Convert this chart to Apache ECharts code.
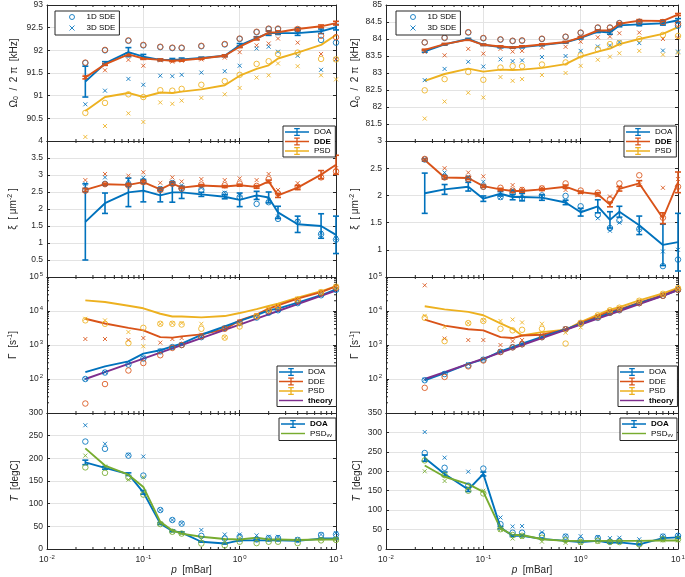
<!DOCTYPE html>
<html>
<head>
<meta charset="utf-8">
<script src="https://cdn.jsdelivr.net/npm/echarts@6/dist/echarts.min.js"></script>
<style>
html, body { margin: 0; padding: 0; background: #fff; }
#main { width: 685px; height: 577px; }
</style>
</head>
<body>
<div id="main"></div>
<script>
// pressure [mBar], shared by every panel
var pressure = [0.025, 0.04, 0.07, 0.1, 0.15, 0.2, 0.25, 0.4, 0.7, 1, 1.5, 2, 2.5, 4, 7, 10]

// minor tick positions of the log axes
var minorX = [0.02, 0.03, 0.04, 0.05, 0.06, 0.07, 0.08, 0.09, 0.2, 0.3, 0.4, 0.5, 0.6, 0.7, 0.8, 0.9, 2, 3, 4, 5, 6, 7, 8, 9]
var minorY = [20, 30, 40, 50, 60, 70, 80, 90, 200, 300, 400, 500, 600, 700, 800, 900,
    2000, 3000, 4000, 5000, 6000, 7000, 8000, 9000, 20000, 30000, 40000, 50000, 60000, 70000, 80000, 90000]

// ---- Omega0 / 2pi, left
var omDoaA = [91.31, 91.71, 91.96, 91.86, 91.79, 91.79, 91.80, 91.83, 91.88, 92.11, 92.27, 92.38, 92.38, 92.38, 92.42, 92.51]
var omDoaErrA = [0.34, 0.04, 0.1, 0.05, 0.02, 0.03, 0.03, 0.02, 0.02, 0.04, 0.03, 0.05, 0.03, 0.05, 0.05, 0.06]
var omDdeA = [91.40, 91.69, 91.91, 91.82, 91.79, 91.77, 91.78, 91.82, 91.88, 92.08, 92.26, 92.39, 92.40, 92.47, 92.53, 92.60]
var omDdeErrA = [0.03, 0.02, 0.03, 0.02, 0.02, 0.02, 0.02, 0.02, 0.02, 0.02, 0.03, 0.03, 0.03, 0.03, 0.03, 0.04]
var omPsdA = [90.66, 90.97, 91.06, 90.97, 91.07, 91.06, 91.09, 91.14, 91.23, 91.44, 91.59, 91.67, 91.82, 91.95, 92.12, 92.34]
var omDoa1A = [91.72, 92.00, 92.21, 92.11, 92.07, 92.05, 92.05, 92.09, 92.13, 92.25, 92.40, 92.47, 92.47, 92.45, 92.23, 92.17]
var omDoa3A = [90.81, 91.11, 91.37, 91.24, 91.44, 91.43, 91.46, 91.51, 91.54, 91.66, 92.04, 92.08, 91.97, 91.88, 91.57, 91.80]
var omDde1A = [91.73, 92.01, 92.22, 92.12, 92.08, 92.06, 92.06, 92.10, 92.14, 92.26, 92.41, 92.48, 92.48, 92.47, 92.32, 92.29]
var omDde3A = [91.42, 91.56, 91.79, 91.66, 91.78, 91.75, 91.77, 91.80, 91.84, 91.96, 92.11, 92.15, 92.26, 92.17, 91.92, 91.81]
var omPsd1A = [90.62, 90.84, 91.03, 90.97, 91.12, 91.11, 91.15, 91.24, 91.32, 91.46, 91.70, 91.76, 91.92, 91.95, 91.81, 91.80]
var omPsd3A = [90.09, 90.33, 90.61, 90.42, 90.85, 90.82, 90.89, 90.95, 91.03, 91.17, 91.40, 91.45, 91.71, 91.65, 91.45, 91.36]

// ---- Omega0 / 2pi, right
var omDoaB = [83.64, 83.84, 84.00, 83.83, 83.76, 83.75, 83.76, 83.82, 83.90, 84.03, 84.22, 84.19, 84.40, 84.43, 84.46, 84.55]
var omDoaErrB = [0.03, 0.02, 0.02, 0.02, 0.02, 0.02, 0.02, 0.02, 0.02, 0.03, 0.03, 0.05, 0.04, 0.04, 0.05, 0.05]
var omDdeB = [83.68, 83.85, 83.98, 83.83, 83.78, 83.75, 83.78, 83.84, 83.91, 84.05, 84.25, 84.25, 84.45, 84.54, 84.53, 84.72]
var omDdeErrB = [0.02, 0.02, 0.02, 0.02, 0.02, 0.02, 0.02, 0.02, 0.02, 0.02, 0.02, 0.03, 0.03, 0.03, 0.03, 0.03]
var omPsdB = [82.77, 82.97, 83.13, 83.04, 83.10, 83.09, 83.10, 83.15, 83.26, 83.48, 83.63, 83.72, 83.85, 84.00, 84.15, 84.35]
var omDoa1B = [83.90, 84.03, 84.19, 84.02, 83.98, 83.94, 83.95, 84.00, 84.06, 84.18, 84.33, 84.33, 84.47, 84.50, 84.48, 84.39]
var omDoa3B = [82.79, 83.12, 83.33, 83.19, 83.40, 83.35, 83.37, 83.47, 83.50, 83.65, 83.78, 83.81, 83.91, 83.88, 83.66, 83.63]
var omDde1B = [83.90, 84.04, 84.20, 84.03, 83.99, 83.95, 83.96, 84.01, 84.07, 84.19, 84.34, 84.34, 84.46, 84.51, 84.50, 84.45]
var omDde3B = [83.62, 83.52, 83.71, 83.57, 83.71, 83.63, 83.65, 83.75, 83.77, 83.92, 84.05, 84.07, 84.17, 84.19, 84.00, 84.04]
var omPsd1B = [82.49, 82.82, 83.03, 82.80, 83.16, 83.20, 83.20, 83.25, 83.31, 83.52, 83.70, 83.85, 83.88, 84.00, 84.12, 84.09]
var omPsd3B = [81.66, 82.16, 82.42, 82.28, 82.88, 82.77, 82.82, 82.94, 83.00, 83.21, 83.39, 83.48, 83.58, 83.65, 83.54, 83.60]

// ---- xi, left
var xiDoaA = [1.62, 2.17, 2.49, 2.54, 2.40, 2.49, 2.49, 2.43, 2.36, 2.27, 2.40, 2.34, 1.90, 1.55, 1.50, 1.24]
var xiDoaErrA = [1.12, 0.30, 0.42, 0.33, 0.19, 0.29, 0.18, 0.06, 0.06, 0.20, 0.12, 0.16, 0.18, 0.24, 0.36, 0.55]
var xiDdeA = [2.56, 2.73, 2.71, 2.79, 2.58, 2.75, 2.63, 2.69, 2.66, 2.70, 2.65, 2.81, 2.40, 2.63, 3.01, 3.30]
var xiDdeErrA = [0.05, 0.03, 0.04, 0.04, 0.04, 0.05, 0.03, 0.03, 0.03, 0.03, 0.04, 0.04, 0.06, 0.06, 0.12, 0.28]
var xiDoa1A = [2.55, 2.74, 2.72, 2.81, 2.58, 2.76, 2.60, 2.56, 2.44, 2.35, 2.15, 2.20, 1.71, 1.62, 1.26, 1.10]
var xiDoa3A = [2.74, 2.93, 2.86, 2.92, 2.62, 2.80, 2.70, 2.62, 2.48, 2.41, 2.33, 2.27, 1.78, 1.65, 1.30, 1.15]
var xiDde1A = [2.54, 2.73, 2.69, 2.79, 2.56, 2.74, 2.60, 2.72, 2.70, 2.75, 2.68, 2.88, 2.46, 2.65, 2.93, 3.11]
var xiDde3A = [2.85, 3.03, 2.98, 3.08, 2.77, 2.93, 2.81, 2.88, 2.85, 2.90, 2.85, 3.03, 2.56, 2.76, 2.95, 3.20]

// ---- xi, right
var xiDoaB = [2.04, 2.11, 2.16, 1.94, 2.03, 1.97, 1.97, 1.96, 1.87, 1.69, 1.80, 1.55, 1.70, 1.45, 1.09, 1.14]
var xiDoaErrB = [0.37, 0.09, 0.08, 0.05, 0.04, 0.05, 0.07, 0.05, 0.04, 0.07, 0.12, 0.15, 0.10, 0.17, 0.38, 0.53]
var xiDdeB = [2.65, 2.33, 2.32, 2.17, 2.11, 2.08, 2.08, 2.11, 2.16, 2.06, 2.02, 1.83, 2.12, 2.22, 1.58, 2.24]
var xiDdeErrB = [0.02, 0.03, 0.03, 0.02, 0.02, 0.02, 0.02, 0.02, 0.03, 0.02, 0.03, 0.04, 0.04, 0.05, 0.1, 0.19]
var xiDoa1B = [2.66, 2.34, 2.30, 2.16, 1.97, 2.04, 1.95, 2.00, 1.99, 1.80, 1.64, 1.40, 1.54, 1.38, 0.70, 0.82]
var xiDoa3B = [2.66, 2.42, 2.34, 2.25, 1.96, 2.10, 2.05, 1.98, 1.90, 1.75, 1.58, 1.35, 1.50, 1.40, 0.97, 1.00]
var xiDde1B = [2.67, 2.33, 2.30, 2.16, 2.14, 2.09, 2.10, 2.13, 2.22, 2.09, 2.05, 1.93, 2.22, 2.37, 1.59, 2.16]
var xiDde3B = [2.67, 2.50, 2.42, 2.35, 2.10, 2.19, 2.12, 2.14, 2.10, 2.05, 2.00, 1.98, 2.15, 2.25, 2.14, 2.30]

// ---- Gamma [1/s], left
var gaDoaA = [160, 236, 330, 560, 700, 910, 1100, 2000, 3500, 5100, 7600, 10500, 11700, 17600, 29000, 43000]
var gaDdeA = [5900, 4300, 3200, 2700, 1700, 1650, 1800, 2050, 2900, 5300, 7800, 11700, 14700, 23000, 36000, 53000]
var gaPsdA = [20600, 18400, 14300, 12000, 8300, 6900, 6900, 6500, 7100, 8700, 11400, 14000, 16400, 24600, 38000, 54000]
var gaTheoryA = [100, 160, 280, 400, 600, 800, 1000, 1600, 2800, 4000, 6000, 8000, 10000, 16000, 28000, 40000]
var gaDoa1A = [100, 155, 265, 400, 650, 870, 1000, 1700, 3100, 4400, 6400, 8900, 10500, 17000, 29000, 42000]
var gaDoa3A = [100, 160, 280, 430, 680, 880, 1050, 1750, 3200, 4500, 6600, 9200, 10800, 17500, 30000, 43000]
var gaDde1A = [19, 71, 178, 295, 500, 820, 1000, 1800, 3000, 4600, 7000, 10000, 12500, 20000, 33000, 48000]
var gaDde3A = [1500, 1500, 1400, 1600, 1170, 1500, 1600, 2000, 3000, 5000, 7500, 11000, 14000, 22000, 35000, 50000]
var gaPsd1A = [5300, 4200, 1140, 3200, 4200, 4200, 4000, 3000, 1650, 3500, 7000, 11000, 14000, 22000, 36000, 52000]
var gaPsd3A = [5900, 5300, 2400, 920, 4200, 4400, 4400, 4200, 1700, 4000, 7500, 11500, 15000, 23000, 37000, 53000]

// ---- Gamma [1/s], right
var gaDoaB = [91, 150, 280, 380, 650, 870, 1100, 1740, 2900, 4200, 6300, 8800, 10500, 17000, 28000, 42000]
var gaDdeB = [5600, 3700, 2900, 2700, 1700, 1600, 1900, 2000, 2800, 4400, 6900, 9800, 11200, 17700, 29000, 44000]
var gaPsdB = [13800, 11200, 9400, 7500, 4300, 3000, 1900, 2400, 2800, 4700, 7800, 11000, 13000, 20500, 33000, 48000]
var gaTheoryB = [100, 160, 280, 400, 600, 800, 1000, 1600, 2800, 4000, 6000, 8000, 10000, 16000, 28000, 41000]
var gaDoa1B = [92, 140, 250, 370, 630, 860, 1050, 1700, 2900, 4200, 6300, 8800, 10500, 17000, 28000, 42000]
var gaDoa3B = [95, 150, 275, 390, 650, 880, 1080, 1750, 3000, 4300, 6500, 9000, 10800, 17500, 29000, 43000]
var gaDde1B = [55, 115, 235, 350, 620, 850, 1050, 1700, 2900, 4300, 6500, 9000, 10800, 17000, 28000, 42000]
var gaDde3B = [57000, 1550, 1400, 1400, 1000, 1300, 1400, 2000, 3000, 4500, 7000, 9800, 11500, 18000, 29000, 44000]
var gaPsd1B = [6300, 1300, 4400, 5100, 3000, 2700, 2800, 3000, 1100, 4500, 7500, 10500, 12500, 20000, 32000, 47000]
var gaPsd3B = [7200, 3400, 4400, 5300, 5100, 5600, 4600, 4200, 2300, 3300, 7500, 10500, 12500, 20000, 32000, 47000]

// ---- T [degC], left
var tDoaA = [191, 179, 165, 125, 56, 40, 36, 16, 12, 19, 19, 19, 19, 18, 23, 23]
var tDoaErrA = [5, 3, 3, 4, 2, 2, 2, 1, 1, 1, 1, 1, 1, 1, 1, 1]
var tPsdA = [222, 184, 164, 137, 60, 41, 34, 27, 22, 21, 25, 21, 21, 20, 21, 21]
var tDoa1A = [237, 221, 206, 162, 86, 64, 56, 29, 23, 27, 21, 24, 24, 20, 31, 32]
var tDoa3A = [273, 232, 208, 204, 86, 64, 57, 42, 32, 32, 30, 27, 27, 21, 32, 35]
var tPsd1A = [180, 168, 158, 120, 55, 38, 34, 12, 8, 16, 13, 16, 16, 13, 19, 20]
var tPsd3A = [206, 182, 153, 158, 56, 38, 34, 21, 18, 24, 21, 21, 21, 21, 21, 21]

// ---- T [degC], right
var tDoaB = [234, 193, 153, 193, 55, 34, 34, 26, 21, 18, 21, 16, 17, 12, 28, 30]
var tDoaErrB = [8, 5, 5, 5, 3, 2, 2, 1, 1, 1, 1, 1, 1, 1, 2, 2]
var tPsdB = [215, 186, 167, 147, 53, 36, 36, 25, 21, 21, 21, 21, 21, 21, 22, 22]
var tDoa1B = [247, 209, 163, 207, 64, 42, 42, 36, 32, 23, 28, 19, 21, 14, 32, 34]
var tDoa3B = [301, 235, 199, 195, 81, 58, 59, 43, 34, 33, 31, 28, 29, 25, 34, 36]
var tPsd1B = [228, 190, 150, 143, 51, 36, 34, 29, 23, 18, 21, 18, 18, 12, 25, 25]
var tPsd3B = [200, 175, 157, 150, 50, 27, 31, 19, 16, 16, 19, 19, 19, 19, 22, 22]

var cBlue = '#0072BD', cRed = '#D95319', cYellow = '#EDB120', cPurple = '#7E2F8E', cGreen = '#77AC30'
var axisColor = '#262626', gridColor = '#e3e3e3'
var font = '"Liberation Sans", Arial, sans-serif'

var colLeft = [47, 386], colWidth = [289, 292]
var rowTop = [5, 141, 277, 413], rowHeight = 136

var crossPath = 'path://M0,0L10,10M10,0L0,10'
var errIcon = 'path://M0,4.1H30V5.9H0Z M14.2,0H15.8V10H14.2Z M11.5,0H18.5V1.5H11.5Z M11.5,8.5H18.5V10H11.5Z'
var lineIcon = 'path://M0,4.1H30V5.9H0Z'

var richText = {
    n: { fontSize: 10, color: axisColor, fontFamily: font },
    i: { fontSize: 10, color: axisColor, fontFamily: font, fontStyle: 'italic' },
    sub: { fontSize: 7, color: axisColor, fontFamily: font, padding: [5, 0, 0, 0] },
    sup: { fontSize: 7, color: axisColor, fontFamily: font, padding: [0, 0, 6, 0] }
}

var yCfg = [
    { min: 90, max: 93, interval: 0.5, name: '{n|Ω}{sub|0}{n|  /  2 π  [kHz]}' },
    { min: 81, max: 85, interval: 0.5, name: '{n|Ω}{sub|0}{n|  /  2 π  [kHz]}' },
    { min: 0, max: 4, interval: 0.5, name: '{n|ξ  [ μm}{sup|-2}{n| ]}' },
    { min: 0.5, max: 3, interval: 0.5, name: '{n|ξ  [ μm}{sup|-2}{n| ]}' },
    { log: true, min: 10, max: 100000, name: '{n|Γ  [s}{sup|-1}{n|]}' },
    { log: true, min: 10, max: 100000, name: '{n|Γ  [s}{sup|-1}{n|]}' },
    { min: 0, max: 300, interval: 50, name: '{i|T}{n|  [degC]}' },
    { min: 0, max: 350, interval: 50, name: '{i|T}{n|  [degC]}' }
]

function powLabel(v) {
    return '{b|10}{s|' + Math.round(Math.log(v) / Math.LN10) + '}'
}
var powRich = {
    b: { fontSize: 8.5, color: axisColor, fontFamily: font },
    s: { fontSize: 6, color: axisColor, fontFamily: font, padding: [0, 0, 6, 1] }
}

var grids = [], xAxes = [], yAxes = [], series = []

for (var g = 0; g < 8; g++) {
    var row = Math.floor(g / 2), col = g % 2, yc = yCfg[g], last = row === 3
    grids.push({ left: colLeft[col], top: rowTop[row], width: colWidth[col], height: rowHeight,
        containLabel: false, outerBoundsMode: 'none' })

    var tick = { show: true, inside: true, length: 3, lineStyle: { color: axisColor, width: 1 } }
    var aline = { show: true, onZero: false, lineStyle: { color: axisColor, width: 1 } }

    xAxes.push({
        type: 'log', logBase: 10, gridIndex: g, min: 0.01, max: 10, position: 'bottom',
        axisLine: aline, axisTick: tick,
        axisLabel: { show: last, formatter: powLabel, rich: powRich, margin: 5 },
        splitLine: { show: true, lineStyle: { color: gridColor, width: 1 } },
        name: last ? '{i|p}{n|  [mBar]}' : '', nameLocation: 'middle', nameGap: 16,
        nameTextStyle: { rich: richText }
    })
    xAxes.push({
        type: 'log', logBase: 10, gridIndex: g, min: 0.01, max: 10, position: 'top',
        axisLine: aline, axisTick: tick, axisLabel: { show: false }, splitLine: { show: false }
    })

    var yMain = {
        type: yc.log ? 'log' : 'value', gridIndex: g, min: yc.min, max: yc.max, position: 'left',
        axisLine: aline, axisTick: tick,
        axisLabel: { fontSize: 8.5, color: axisColor, fontFamily: font, margin: 4, showMinLabel: last, showMaxLabel: true },
        splitLine: { show: true, lineStyle: { color: gridColor, width: 1 } },
        name: yc.name, nameLocation: 'middle', nameGap: col === 0 ? 27 : 24,
        nameTextStyle: { rich: richText }
    }
    var yMirror = {
        type: yc.log ? 'log' : 'value', gridIndex: g, min: yc.min, max: yc.max, position: 'right',
        axisLine: aline, axisTick: tick, axisLabel: { show: false }, splitLine: { show: false }
    }
    if (yc.log) {
        yMain.logBase = 10
        yMirror.logBase = 10
        yMain.axisLabel.formatter = powLabel
        yMain.axisLabel.rich = powRich
    } else {
        yMain.interval = yc.interval
        yMirror.interval = yc.interval
    }
    yAxes.push(yMain, yMirror)

    // minor ticks of the log x axis (bottom and top)
    series.push({
        type: 'custom', name: 'minorX', xAxisIndex: 2 * g, yAxisIndex: 2 * g, silent: true, clip: false,
        data: minorX.map(function (v) { return [v, yc.min] }),
        renderItem: function (params, api) {
            var cs = params.coordSys
            var px = api.coord([api.value(0), api.value(1)])[0]
            var st = { stroke: axisColor, lineWidth: 1 }
            return { type: 'group', children: [
                { type: 'line', shape: { x1: px, y1: cs.y + cs.height, x2: px, y2: cs.y + cs.height - 2 }, style: st },
                { type: 'line', shape: { x1: px, y1: cs.y, x2: px, y2: cs.y + 2 }, style: st }
            ] }
        }
    })
    if (yc.log) {
        series.push({
            type: 'custom', name: 'minorY', xAxisIndex: 2 * g, yAxisIndex: 2 * g, silent: true, clip: false,
            data: minorY.map(function (v) { return [0.01, v] }),
            renderItem: function (params, api) {
                var cs = params.coordSys
                var py = api.coord([api.value(0), api.value(1)])[1]
                var st = { stroke: axisColor, lineWidth: 1 }
                return { type: 'group', children: [
                    { type: 'line', shape: { x1: cs.x, y1: py, x2: cs.x + 2, y2: py }, style: st },
                    { type: 'line', shape: { x1: cs.x + cs.width, y1: py, x2: cs.x + cs.width - 2, y2: py }, style: st }
                ] }
            }
        })
    }
}

function pts(ys) {
    return pressure.map(function (p, i) { return [p, ys[i]] })
}

function addLine(g, name, ys, color) {
    series.push({ type: 'line', name: name, xAxisIndex: 2 * g, yAxisIndex: 2 * g, data: pts(ys),
        symbol: 'none', silent: true, z: 3,
        lineStyle: { color: color, width: 1.9 }, itemStyle: { color: color } })
}

function renderErr(params, api) {
    var x = api.value(0), y = api.value(1), e = api.value(2)
    var hi = api.coord([x, y + e]), lo = api.coord([x, y - e])
    var st = { stroke: api.visual('color'), lineWidth: 1.6 }
    return { type: 'group', children: [
        { type: 'line', shape: { x1: hi[0], y1: hi[1], x2: lo[0], y2: lo[1] }, style: st },
        { type: 'line', shape: { x1: hi[0] - 3, y1: hi[1], x2: hi[0] + 3, y2: hi[1] }, style: st },
        { type: 'line', shape: { x1: lo[0] - 3, y1: lo[1], x2: lo[0] + 3, y2: lo[1] }, style: st }
    ] }
}

function addErr(g, ys, es, color) {
    series.push({ type: 'custom', name: 'err', xAxisIndex: 2 * g, yAxisIndex: 2 * g, silent: true, z: 3,
        data: pressure.map(function (p, i) { return [p, ys[i], es[i]] }),
        renderItem: renderErr, itemStyle: { color: color } })
}

function addDots(g, name, ys, color) {
    var circle = name === '1D SDE'
    series.push({ type: 'scatter', name: name, xAxisIndex: 2 * g, yAxisIndex: 2 * g, data: pts(ys),
        silent: true, z: 4,
        symbol: circle ? 'circle' : crossPath, symbolSize: circle ? 5.5 : 4,
        itemStyle: circle ? { color: 'transparent', borderColor: color, borderWidth: 1, opacity: 0.85 }
                          : { color: 'none', borderColor: color, borderWidth: 1, opacity: 0.85 } })
}

// Omega
addLine(0, 'DOA', omDoaA, cBlue); addErr(0, omDoaA, omDoaErrA, cBlue)
addLine(0, 'DDE', omDdeA, cRed); addErr(0, omDdeA, omDdeErrA, cRed)
addLine(0, 'PSD', omPsdA, cYellow)
addDots(0, '1D SDE', omDoa1A, cBlue); addDots(0, '3D SDE', omDoa3A, cBlue)
addDots(0, '1D SDE', omDde1A, cRed); addDots(0, '3D SDE', omDde3A, cRed)
addDots(0, '1D SDE', omPsd1A, cYellow); addDots(0, '3D SDE', omPsd3A, cYellow)

addLine(1, 'DOA', omDoaB, cBlue); addErr(1, omDoaB, omDoaErrB, cBlue)
addLine(1, 'DDE', omDdeB, cRed); addErr(1, omDdeB, omDdeErrB, cRed)
addLine(1, 'PSD', omPsdB, cYellow)
addDots(1, '1D SDE', omDoa1B, cBlue); addDots(1, '3D SDE', omDoa3B, cBlue)
addDots(1, '1D SDE', omDde1B, cRed); addDots(1, '3D SDE', omDde3B, cRed)
addDots(1, '1D SDE', omPsd1B, cYellow); addDots(1, '3D SDE', omPsd3B, cYellow)

// xi
addLine(2, 'DOA', xiDoaA, cBlue); addErr(2, xiDoaA, xiDoaErrA, cBlue)
addLine(2, 'DDE', xiDdeA, cRed); addErr(2, xiDdeA, xiDdeErrA, cRed)
addDots(2, '1D SDE', xiDoa1A, cBlue); addDots(2, '3D SDE', xiDoa3A, cBlue)
addDots(2, '1D SDE', xiDde1A, cRed); addDots(2, '3D SDE', xiDde3A, cRed)

addLine(3, 'DOA', xiDoaB, cBlue); addErr(3, xiDoaB, xiDoaErrB, cBlue)
addLine(3, 'DDE', xiDdeB, cRed); addErr(3, xiDdeB, xiDdeErrB, cRed)
addDots(3, '1D SDE', xiDoa1B, cBlue); addDots(3, '3D SDE', xiDoa3B, cBlue)
addDots(3, '1D SDE', xiDde1B, cRed); addDots(3, '3D SDE', xiDde3B, cRed)

// Gamma
addLine(4, 'PSD', gaPsdA, cYellow)
addLine(4, 'DDE', gaDdeA, cRed)
addLine(4, 'DOA', gaDoaA, cBlue)
addLine(4, 'theory', gaTheoryA, cPurple)
addDots(4, '1D SDE', gaDoa1A, cBlue); addDots(4, '3D SDE', gaDoa3A, cBlue)
addDots(4, '1D SDE', gaDde1A, cRed); addDots(4, '3D SDE', gaDde3A, cRed)
addDots(4, '1D SDE', gaPsd1A, cYellow); addDots(4, '3D SDE', gaPsd3A, cYellow)

addLine(5, 'PSD', gaPsdB, cYellow)
addLine(5, 'DDE', gaDdeB, cRed)
addLine(5, 'DOA', gaDoaB, cBlue)
addLine(5, 'theory', gaTheoryB, cPurple)
addDots(5, '1D SDE', gaDoa1B, cBlue); addDots(5, '3D SDE', gaDoa3B, cBlue)
addDots(5, '1D SDE', gaDde1B, cRed); addDots(5, '3D SDE', gaDde3B, cRed)
addDots(5, '1D SDE', gaPsd1B, cYellow); addDots(5, '3D SDE', gaPsd3B, cYellow)

// T
addLine(6, 'DOA', tDoaA, cBlue); addErr(6, tDoaA, tDoaErrA, cBlue)
addLine(6, 'PSDvv', tPsdA, cGreen)
addDots(6, '1D SDE', tDoa1A, cBlue); addDots(6, '3D SDE', tDoa3A, cBlue)
addDots(6, '1D SDE', tPsd1A, cGreen); addDots(6, '3D SDE', tPsd3A, cGreen)

addLine(7, 'DOA', tDoaB, cBlue); addErr(7, tDoaB, tDoaErrB, cBlue)
addLine(7, 'PSDvv', tPsdB, cGreen)
addDots(7, '1D SDE', tDoa1B, cBlue); addDots(7, '3D SDE', tDoa3B, cBlue)
addDots(7, '1D SDE', tPsd1B, cGreen); addDots(7, '3D SDE', tPsd3B, cGreen)

var legendItems = {
    '1D SDE': { name: '1D SDE', icon: 'circle', itemStyle: { color: 'transparent', borderColor: cBlue, borderWidth: 1 } },
    '3D SDE': { name: '3D SDE', icon: crossPath, itemStyle: { color: 'none', borderColor: cBlue, borderWidth: 1 } },
    'DOA': { name: 'DOA', icon: errIcon, itemStyle: { color: cBlue, borderWidth: 0 } },
    'DDE': { name: 'DDE', icon: errIcon, itemStyle: { color: cRed, borderWidth: 0 } },
    'PSD': { name: 'PSD', icon: errIcon, itemStyle: { color: cYellow, borderWidth: 0 } },
    'theory': { name: 'theory', icon: lineIcon, itemStyle: { color: cPurple, borderWidth: 0 } },
    'PSDvv': { name: 'PSDvv', icon: lineIcon, itemStyle: { color: cGreen, borderWidth: 0 } }
}

function legendBox(left, top, names, bold, sde) {
    var textPad = sde ? [0, 0, 0, 7] : [0, 0, 0, 0]
    return {
        left: left, top: top, orient: 'vertical', z: 10,
        itemWidth: sde ? 5 : 24, itemHeight: sde ? 5 : 8, itemGap: sde ? 2 : 1.5,
        padding: sde ? [2, 4, 2, 12] : [2, 4, 2, 2],
        backgroundColor: '#fff', borderColor: axisColor, borderWidth: 1, borderRadius: 0,
        selectedMode: false,
        textStyle: { fontSize: 8, color: '#000', fontFamily: font,
            rich: {
                r: { fontSize: 8, color: '#000', fontFamily: font, padding: textPad },
                b: { fontSize: 8, color: '#000', fontFamily: font, fontWeight: 'bold' },
                sub: { fontSize: 5.5, color: '#000', fontFamily: font, padding: [4, 0, 0, 0] }
            } },
        formatter: function (n) {
            if (n === 'PSDvv') return '{r|PSD}{sub|vv}'
            return (n === bold ? '{b|' : '{r|') + n + '}'
        },
        data: names.map(function (n) { return legendItems[n] })
    }
}

var legends = [
    legendBox(55, 11, ['1D SDE', '3D SDE'], '', true),
    legendBox(396, 11, ['1D SDE', '3D SDE'], '', true),
    legendBox(283, 126, ['DOA', 'DDE', 'PSD'], 'DDE'),
    legendBox(624, 126, ['DOA', 'DDE', 'PSD'], 'DDE'),
    legendBox(277, 366, ['DOA', 'DDE', 'PSD', 'theory'], 'theory'),
    legendBox(618, 366, ['DOA', 'DDE', 'PSD', 'theory'], 'theory'),
    legendBox(279, 418, ['DOA', 'PSDvv'], 'DOA'),
    legendBox(620, 418, ['DOA', 'PSDvv'], 'DOA')
]

var chart = echarts.init(document.getElementById('main'))
chart.setOption({
    animation: false,
    backgroundColor: '#fff',
    textStyle: { fontFamily: font },
    grid: grids,
    xAxis: xAxes,
    yAxis: yAxes,
    legend: legends,
    series: series
})
</script>
</body>
</html>
